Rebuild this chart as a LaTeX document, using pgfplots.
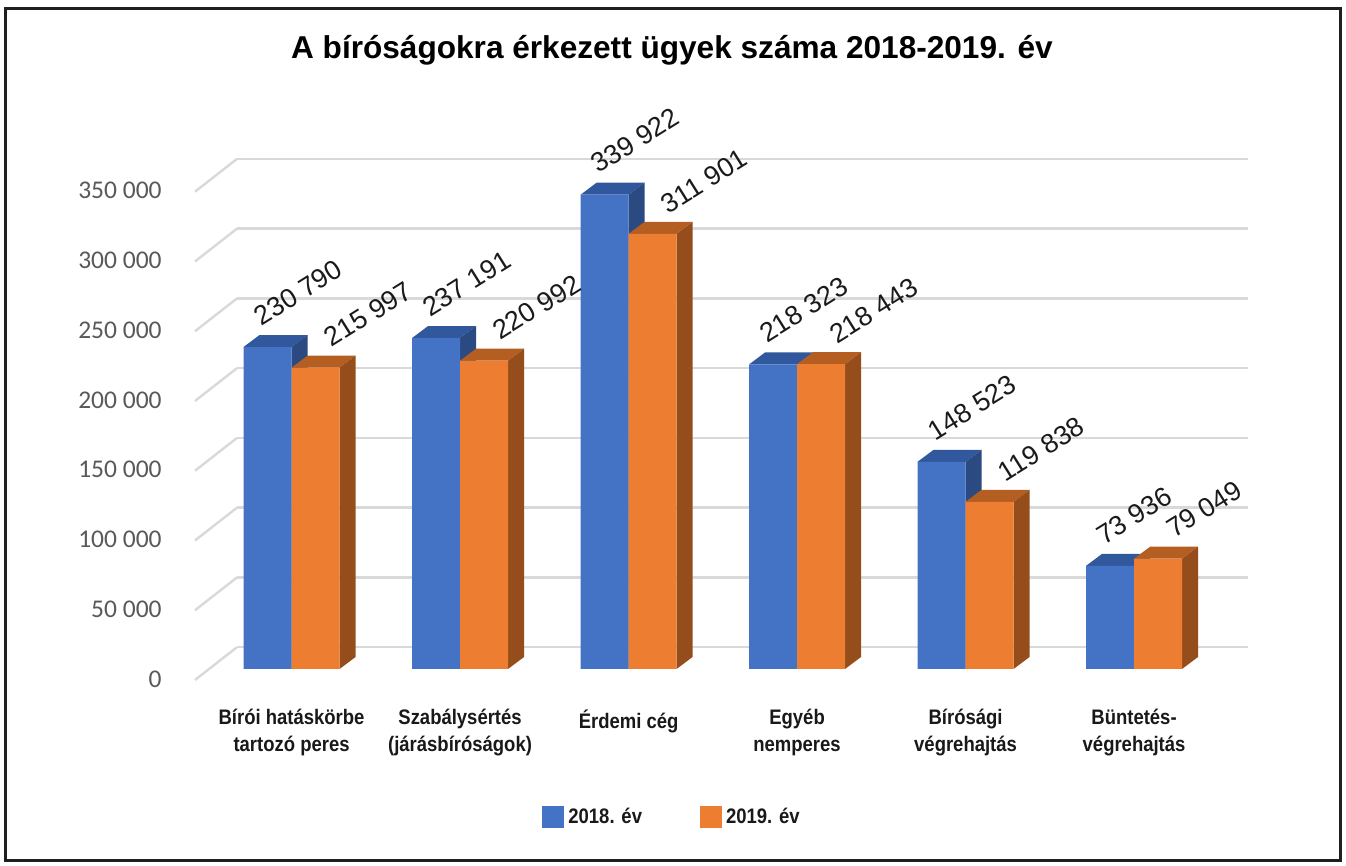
\documentclass[border=0pt]{standalone}
\usepackage{fontspec}
\setmainfont{Liberation Sans}
\newfontfamily\carlito{Carlito}
\newfontfamily\narrowfont[FakeStretch=0.88]{Liberation Sans}
\usepackage{pgfplots}
\usepackage{pgfplotstable}
\pgfplotsset{compat=1.18}
\definecolor{bfront}{HTML}{4472C4}
\definecolor{btop}{HTML}{31589C}
\definecolor{bside}{HTML}{2B4A82}
\definecolor{ofront}{HTML}{ED7D31}
\definecolor{otop}{HTML}{B55E22}
\definecolor{oside}{HTML}{964D1C}
\definecolor{gridc}{HTML}{D9D9D9}
\definecolor{tickc}{HTML}{595959}
\definecolor{labc}{HTML}{1A1A1A}

\pgfplotstableread{
x a b
0 230790 215997
1 237191 220992
2 339922 311901
3 218323 218443
4 148523 119838
5 73936 79049
}\data

\newcommand\computeheight{%
  \begingroup
  \pgfkeys{/pgf/fpu=true,/pgf/fpu/output format=fixed}%
  \pgfmathparse{\rawv*0.00069757}%
  \xdef\hh{\pgfmathresult}%
  \endgroup
}

\pgfdeclareplotmark{bfaces}{%
  \computeheight
  \pgfsetfillcolor{btop}%
  \pgfpathmoveto{\pgfqpoint{-24pt}{0pt}}%
  \pgfpathlineto{\pgfqpoint{0pt}{0pt}}%
  \pgfpathlineto{\pgfqpoint{8pt}{6pt}}%
  \pgfpathlineto{\pgfqpoint{-16pt}{6pt}}%
  \pgfpathclose
  \pgfusepath{fill}%
  \pgfsetfillcolor{bside}%
  \pgfpathmoveto{\pgfqpoint{0pt}{0pt}}%
  \pgfpathlineto{\pgfqpoint{8pt}{6pt}}%
  \pgfpathlineto{\pgfpoint{8pt}{6pt-\hh pt}}%
  \pgfpathlineto{\pgfpoint{0pt}{-\hh pt}}%
  \pgfpathclose
  \pgfusepath{fill}%
}
\pgfdeclareplotmark{ofaces}{%
  \computeheight
  \pgfsetfillcolor{otop}%
  \pgfpathmoveto{\pgfqpoint{0pt}{0pt}}%
  \pgfpathlineto{\pgfqpoint{24pt}{0pt}}%
  \pgfpathlineto{\pgfqpoint{32pt}{6pt}}%
  \pgfpathlineto{\pgfqpoint{8pt}{6pt}}%
  \pgfpathclose
  \pgfusepath{fill}%
  \pgfsetfillcolor{oside}%
  \pgfpathmoveto{\pgfqpoint{24pt}{0pt}}%
  \pgfpathlineto{\pgfqpoint{32pt}{6pt}}%
  \pgfpathlineto{\pgfpoint{32pt}{6pt-\hh pt}}%
  \pgfpathlineto{\pgfpoint{24pt}{-\hh pt}}%
  \pgfpathclose
  \pgfusepath{fill}%
}

\begin{document}
\begin{tikzpicture}
\path[use as bounding box] (0,0) rectangle (673pt,433pt);
\fill[white] (0,0) rectangle (673pt,433pt);
\draw[line width=1.5pt, color=black!88] (2.75pt,428.75pt) rectangle (670.4pt,2.6pt);
\node[anchor=base, font=\bfseries\fontsize{15.8}{19}\selectfont, text=black] at (336pt,403.7pt) {A bíróságokra érkezett ügyek száma 2018-2019. év};
\begin{axis}[
  at={(104.5pt,98.5pt)}, anchor=south west,
  scale only axis, width=505.5pt, height=244.15pt,
  xmin=-0.49, xmax=5.51, ymin=0, ymax=350000,
  enlargelimits=false, clip=false, clip marker paths=true,
  scaled y ticks=false,
  axis line style={draw=none},
  major tick length=0pt,
  ytick={0,50000,100000,150000,200000,250000,300000,350000},
  yticklabels={0,50 000,100 000,150 000,200 000,250 000,300 000,350 000},
  yticklabel style={anchor=east, inner sep=0pt, xshift=-23.5pt, yshift=-5pt, font=\carlito\fontsize{12.75}{14}\selectfont, text=tickc},
  ymajorgrids,
  major grid style={draw=gridc, line width=1.2pt, xshift=14pt, yshift=10.9pt},
  xtick={0,1,2,3,4,5},
  xticklabels={{Bírói hatáskörbe\\tartozó peres},{Szabálysértés\\(járásbíróságok)},{Érdemi cég},{Egyéb\\nemperes},{Bírósági\\végrehajtás},{Büntetés-\\végrehajtás}},
  xticklabel style={anchor=north, align=center, inner sep=0pt, yshift=-20pt, font=\narrowfont\bfseries\fontsize{10.5}{13.5}\selectfont, text=black!90},
  legend style={at={(0.459,-0.303)}, anchor=center, draw=none, fill=none, legend columns=2, font=\narrowfont\bfseries\fontsize{10.5}{12}\selectfont, text=black!90, /tikz/every even column/.append style={column sep=27pt}},
  every node near coord/.append style={/pgf/number format/1000 sep={\ }, /pgf/number format/fixed, /pgf/number format/precision=0, /pgf/number format/assume math mode=true, font=\fontsize{13.5}{15}\selectfont, text=labc, anchor=south west, inner sep=0pt},
]
\pgfplotsinvokeforeach{0,50000,100000,150000,200000,250000,300000,350000}{
  \draw[gridc, line width=1.2pt] (axis cs:-0.49,#1) ++(-7pt,-5.5pt) -- ++(21pt,16.4pt);
}
\addplot[only marks, mark=bfaces, forget plot, visualization depends on={\thisrow{a} \as \rawv}] table[x=x,y=a]{\data};
\addplot[ybar, bar width=24pt, bar shift=-12pt, fill=bfront, draw=none, nodes near coords,
  nodes near coords style={xshift=-15pt, yshift=10pt, rotate=32},
  legend image code/.code={\fill[bfront] (0pt,-5.5pt) rectangle (11pt,5.5pt);}] table[x=x,y=a]{\data};
\addlegendentry{2018. év}
\addplot[only marks, mark=ofaces, forget plot, visualization depends on={\thisrow{b} \as \rawv}] table[x=x,y=b]{\data};
\addplot[ybar, bar width=24pt, bar shift=12pt, fill=ofront, draw=none, nodes near coords,
  nodes near coords style={xshift=20pt, yshift=9.5pt, rotate=32},
  legend image code/.code={\fill[ofront] (0pt,-5.5pt) rectangle (11pt,5.5pt);}] table[x=x,y=b]{\data};
\addlegendentry{2019. év}
\end{axis}
\end{tikzpicture}
\end{document}
